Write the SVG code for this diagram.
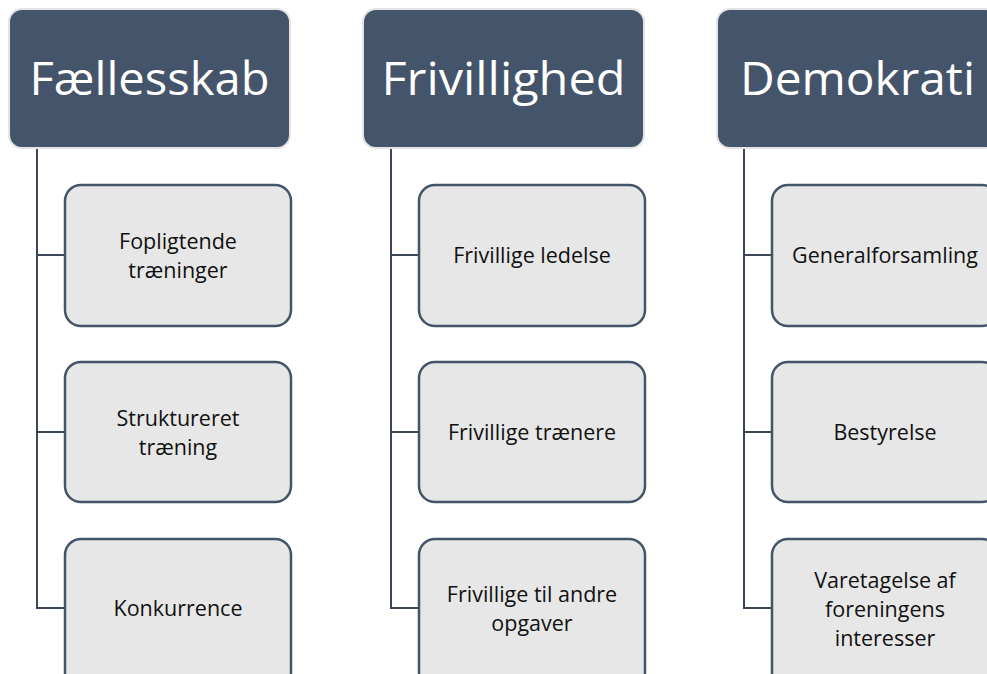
<svg xmlns="http://www.w3.org/2000/svg" width="987" height="674" viewBox="0 0 987 674">
<style>
.hd{fill:#44546A;stroke:#E4E4E4;stroke-width:2}
.ch{fill:#E7E7E7;stroke:#44546A;stroke-width:2.5}
.ht{font-family:"Open Sans",sans-serif;font-size:46px;fill:#FFFFFF;text-anchor:middle}
.ct{font-family:"Open Sans",sans-serif;font-size:21.5px;fill:#111111;text-anchor:middle}
.ln{fill:none;stroke:#3B4659;stroke-width:2}
</style>
<rect width="987" height="674" fill="#FFFFFF"/>
<g id="connectors">
<path class="ln" d="M37 148V608H65M37 255H65M37 432H65"/>
<path class="ln" d="M391 148V608H419M391 255H419M391 432H419"/>
<path class="ln" d="M744 148V608H772M744 255H772M744 432H772"/>
</g>
<g id="h1"><rect class="hd" x="9" y="9" width="281" height="139" rx="13"/><text class="ht" x="149.5" y="95" textLength="240" lengthAdjust="spacingAndGlyphs">Fællesskab</text></g>
<g id="h2"><rect class="hd" x="363" y="9" width="281" height="139" rx="13"/><text class="ht" x="503.5" y="95" textLength="244" lengthAdjust="spacingAndGlyphs">Frivillighed</text></g>
<g id="h3"><rect class="hd" x="717" y="9" width="281" height="139" rx="13"/><text class="ht" x="857.5" y="95" textLength="235" lengthAdjust="spacingAndGlyphs">Demokrati</text></g>
<g id="c1a"><rect class="ch" x="65" y="185" width="226" height="141" rx="16"/><text class="ct" x="178" y="249">Fopligtende</text><text class="ct" x="178" y="278">træninger</text></g>
<g id="c1b"><rect class="ch" x="65" y="362" width="226" height="140" rx="16"/><text class="ct" x="178" y="426">Struktureret</text><text class="ct" x="178" y="455">træning</text></g>
<g id="c1c"><rect class="ch" x="65" y="539" width="226" height="150" rx="16"/><text class="ct" x="178" y="616">Konkurrence</text></g>
<g id="c2a"><rect class="ch" x="419" y="185" width="226" height="141" rx="16"/><text class="ct" x="532" y="263">Frivillige ledelse</text></g>
<g id="c2b"><rect class="ch" x="419" y="362" width="226" height="140" rx="16"/><text class="ct" x="532" y="440">Frivillige trænere</text></g>
<g id="c2c"><rect class="ch" x="419" y="539" width="226" height="150" rx="16"/><text class="ct" x="532" y="602">Frivillige til andre</text><text class="ct" x="532" y="631">opgaver</text></g>
<g id="c3a"><rect class="ch" x="772" y="185" width="226" height="141" rx="16"/><text class="ct" x="885" y="263">Generalforsamling</text></g>
<g id="c3b"><rect class="ch" x="772" y="362" width="226" height="140" rx="16"/><text class="ct" x="885" y="440">Bestyrelse</text></g>
<g id="c3c"><rect class="ch" x="772" y="539" width="226" height="150" rx="16"/><text class="ct" x="885" y="588">Varetagelse af</text><text class="ct" x="885" y="617">foreningens</text><text class="ct" x="885" y="646">interesser</text></g>
</svg>
